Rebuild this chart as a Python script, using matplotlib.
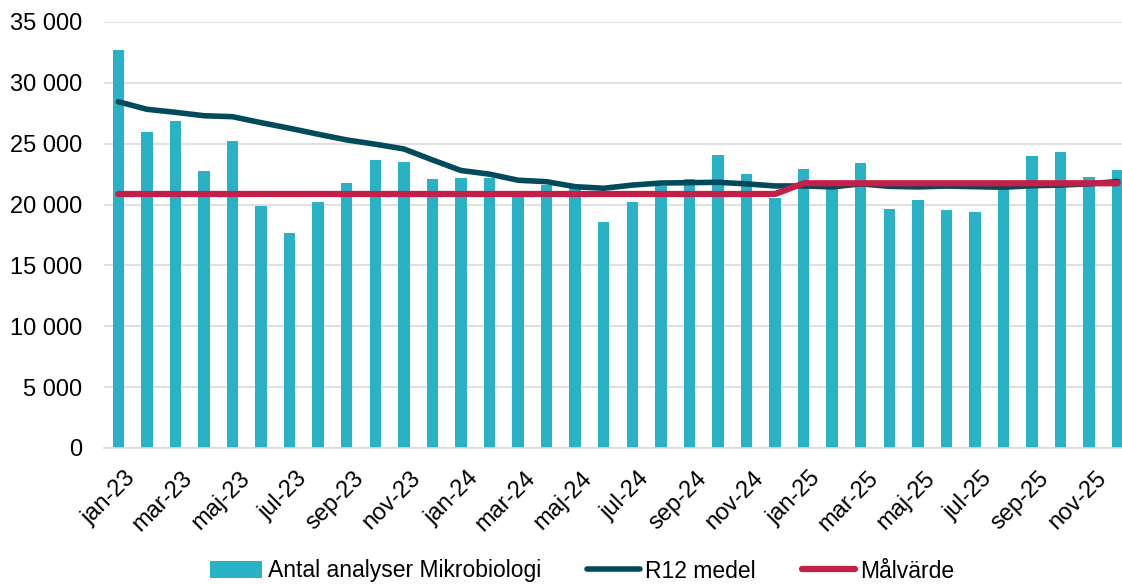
import matplotlib
matplotlib.use("Agg")
import matplotlib.pyplot as plt
from matplotlib.transforms import ScaledTranslation
import numpy as np

plt.rcParams['font.family'] = ['Liberation Sans', 'DejaVu Sans']

months = ['jan', 'feb', 'mar', 'apr', 'maj', 'jun', 'jul', 'aug', 'sep', 'okt', 'nov', 'dec']
years = ['23', '24', '25']
categories = [f"{m}-{y}" for y in years for m in months]

antal = [32700, 26000, 26850, 22750, 25200, 19900, 17650, 20250, 21750, 23700, 23500, 22100,
         22150, 22150, 21150, 21600, 21400, 18550, 20250, 21500, 22100, 24050, 22500, 20550,
         22900, 21400, 23450, 19650, 20350, 19550, 19400, 21400, 23950, 24350, 22250, 22850]

r12 = [28450, 27830, 27580, 27300, 27220, 26730, 26270, 25780, 25310, 24960, 24570, 23670,
       22800, 22500, 22000, 21880, 21470, 21340, 21600, 21770, 21800, 21830, 21700, 21530,
       21530, 21450, 21700, 21500, 21450, 21520, 21470, 21420, 21550, 21600, 21700, 21900]

malvarde = [20870] * 24 + [21750] * 12

yticks = [0, 5000, 10000, 15000, 20000, 25000, 30000, 35000]

fig = plt.figure(figsize=(11.22, 5.84), dpi=100)
W, H = 1122, 584
left, right = 104, 1132
bottom, top = 448, 22
ax = fig.add_axes([left / W, 1 - bottom / H, (right - left) / W, (bottom - top) / H])

x = np.arange(len(categories))
bar_color = '#29B2C6'
hb = ax.bar(x, antal, width=0.4, color=bar_color, zorder=2, label='Antal analyser Mikrobiologi')
hr, = ax.plot(x, r12, color='#004A5A', lw=4, solid_capstyle='round', zorder=3, label='R12 medel')
hm, = ax.plot(x, malvarde, color='#C41F48', lw=4.5, solid_capstyle='round', zorder=4, label='Målvärde')

ax.set_xlim(-0.5, len(categories) - 0.5)
ax.set_ylim(0, 35000)
ax.set_yticks(yticks)
ax.set_yticklabels([f"{v:,}".replace(',', ' ') for v in yticks])
ax.yaxis.grid(True, color='#D9D9D9', lw=1.2, zorder=0)
ax.set_axisbelow(True)
for s in ['top', 'right', 'left']:
    ax.spines[s].set_visible(False)
ax.spines['bottom'].set_color('#D9D9D9')
ax.spines['bottom'].set_linewidth(1.2)
ax.tick_params(axis='both', length=0, labelsize=17, colors='black')
ax.tick_params(axis='y', pad=16)

ax.set_xticks(x[::2])
ax.set_xticklabels(categories[::2], rotation=45, ha='right', va='top', rotation_mode='anchor')
ax.tick_params(axis='x', pad=14)
offset = ScaledTranslation(6 / 100, 0, fig.dpi_scale_trans)
for lab in ax.get_xticklabels():
    lab.set_transform(lab.get_transform() + offset)

leg = fig.legend([hb, hr, hm], ['Antal analyser Mikrobiologi', 'R12 medel', 'Målvärde'],
                 loc='center', bbox_to_anchor=(582 / W, 1 - 571 / H),
                 ncol=3, frameon=False, fontsize=16.5, handlelength=2.3, handletextpad=0.25,
                 columnspacing=2.0, borderaxespad=0)

fig.savefig('out.png', dpi=100)
